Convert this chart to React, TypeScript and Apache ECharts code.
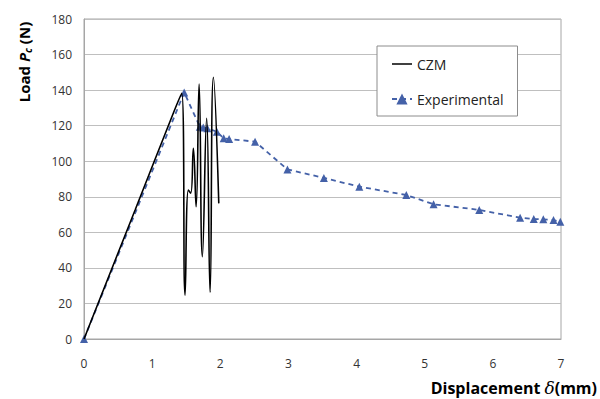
import React, { useEffect, useRef } from "react";
import * as echarts from "echarts";

const czmX = [0, 0.75, 1.3, 1.434, 1.483, 1.532, 1.566, 1.605, 1.645, 1.689, 1.737, 1.8, 1.85, 1.899, 1.978];
const czmY = [0, 72.6, 126, 138.2, 24.7, 83.8, 82, 107.2, 74.4, 143.4, 46.3, 124.1, 26.3, 147.2, 76.3];

const expX = [0, 1.47, 1.7, 1.75, 1.81, 1.95, 2.05, 2.13, 2.51, 2.985, 3.52, 4.04, 4.73, 5.13, 5.8, 6.4, 6.6, 6.74, 6.89, 6.99];
const expY = [0, 138.7, 119.4, 119, 118.5, 116.6, 112.9, 112.5, 111, 95.4, 90.6, 85.7, 81, 75.8, 72.6, 68.2, 67.5, 67.3, 66.9, 66];

const xTicks = [0, 1, 2, 3, 4, 5, 6, 7];
const yTicks = [0, 20, 40, 60, 80, 100, 120, 140, 160, 180];

const FONT = "'Open Sans', 'Liberation Sans', sans-serif";
const BLUE = "#4461a8";

export default function App() {
  const ref = useRef<HTMLDivElement>(null);
  useEffect(() => {
    if (!ref.current) return;
    const chart = echarts.init(ref.current, null, { renderer: "svg" });
    chart.setOption({
      animation: false,
      backgroundColor: "#ffffff",
      grid: {
        left: 84,
        right: 39,
        top: 19,
        bottom: 60,
        show: true,
        borderColor: "#a6a6a6",
        borderWidth: 1,
      },
      xAxis: {
        type: "value",
        min: xTicks[0],
        max: xTicks[xTicks.length - 1],
        interval: 1,
        axisLine: { show: true, lineStyle: { color: "#a6a6a6" } },
        axisTick: { show: false },
        splitLine: { show: false },
        axisLabel: { color: "#333", fontSize: 12, fontFamily: FONT, margin: 18 },
      },
      yAxis: {
        type: "value",
        min: yTicks[0],
        max: yTicks[yTicks.length - 1],
        interval: 20,
        axisLine: { show: true, lineStyle: { color: "#a6a6a6" } },
        axisTick: { show: false },
        splitLine: { show: true, lineStyle: { color: "#bfbfbf", width: 1 } },
        axisLabel: { color: "#333", fontSize: 12, fontFamily: FONT, margin: 12 },
      },
      legend: {
        left: 377,
        top: 46,
        orient: "vertical",
        backgroundColor: "#ffffff",
        borderColor: "#8c8c8c",
        borderWidth: 1,
        padding: [11, 14, 10, 14],
        itemGap: 21,
        itemWidth: 20,
        itemHeight: 14,
        textStyle: { color: "#222", fontSize: 14, fontFamily: FONT },
        data: [
          {
            name: "CZM",
            icon: "line",
            itemStyle: { color: "#000", borderColor: "#000", borderWidth: 1.5 },
          },
          { name: "Experimental" },
        ],
      },
      series: [
        {
          name: "Experimental",
          type: "line",
          data: expX.map((x, i) => [x, expY[i]]),
          symbol: "triangle",
          symbolSize: 8,
          itemStyle: { color: BLUE },
          lineStyle: { color: BLUE, width: 1.8, type: [5, 4] },
          z: 2,
        },
        {
          name: "CZM",
          type: "line",
          data: czmX.map((x, i) => [x, czmY[i]]),
          symbol: "none",
          smooth: 0.5,
          itemStyle: { color: "#000" },
          lineStyle: { color: "#000", width: 1.6 },
          z: 3,
        },
      ],
      graphic: [
        {
          type: "text",
          x: 24,
          y: 62,
          rotation: Math.PI / 2,
          style: {
            text: "{a|Load }{b|P}{c|c}{a| (N)}",
            align: "center",
            verticalAlign: "middle",
            rich: {
              a: { fontSize: 15, fontWeight: "bold", fontFamily: FONT, fill: "#000" },
              b: { fontSize: 15, fontWeight: "bold", fontStyle: "italic", fontFamily: FONT, fill: "#000" },
              c: { fontSize: 10, fontWeight: "bold", fontStyle: "italic", fontFamily: FONT, fill: "#000", padding: [8, 0, 0, 0] },
            },
          },
        },
        {
          type: "text",
          x: 597,
          y: 388,
          style: {
            text: "{a|Displacement }{d|δ}{a|(mm)}",
            align: "right",
            verticalAlign: "middle",
            rich: {
              a: { fontSize: 16, fontWeight: "bold", fontFamily: FONT, fill: "#000" },
              d: { fontSize: 17, fontStyle: "italic", fontFamily: "'DejaVu Serif', serif", fill: "#000" },
            },
          },
        },
      ],
    });
    return () => chart.dispose();
  }, []);
  return <div ref={ref} style={{ width: 600, height: 399, position: "absolute", left: 0, top: 0 }} />;
}
